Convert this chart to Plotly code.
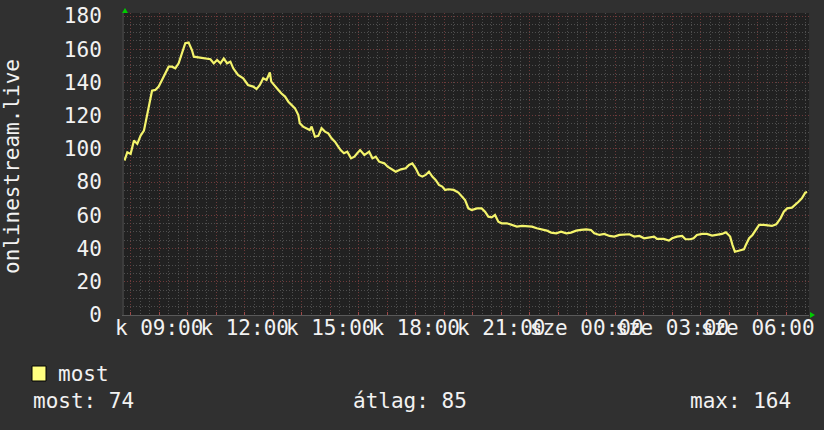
import plotly.graph_objects as go
import pandas as pd

# readings (time of day, value); times run from Tuesday morning into Wednesday
times = [
    "07:47", "07:53", "08:00", "08:07", "08:14", "08:21", "08:28", "08:35", "08:38", "08:45",
    "08:52", "08:59", "09:06", "09:13", "09:20", "09:27", "09:34", "09:41", "09:48", "09:55",
    "10:02", "10:09", "10:13", "10:24", "10:37", "10:48", "10:55", "11:02", "11:09", "11:16",
    "11:23", "11:30", "11:36", "11:46", "11:57", "12:07", "12:18", "12:25", "12:32", "12:39",
    "12:46", "12:53", "12:56", "13:04", "13:11", "13:17", "13:25", "13:32", "13:39", "13:46",
    "13:53", "13:56", "14:03", "14:10", "14:17", "14:21", "14:28", "14:35", "14:42", "14:49",
    "14:56", "15:03", "15:10", "15:17", "15:22", "15:29", "15:36", "15:44", "15:51", "15:57",
    "16:03", "16:12", "16:22", "16:29", "16:36", "16:43", "16:54", "17:01", "17:11", "17:18",
    "17:29", "17:39", "17:46", "17:53", "18:00", "18:07", "18:14", "18:21", "18:28", "18:35",
    "18:42", "18:49", "18:56", "19:02", "19:09", "19:20", "19:30", "19:37", "19:44", "19:51",
    "19:58", "20:09", "20:19", "20:26", "20:33", "20:40", "20:47", "20:54", "21:01", "21:12",
    "21:22", "21:33", "21:44", "21:54", "22:05", "22:15", "22:26", "22:36", "22:45", "22:56",
    "23:06", "23:17", "23:27", "23:38", "23:48", "23:59", "00:09", "00:16", "00:27", "00:37",
    "00:48", "00:58", "01:09", "01:19", "01:30", "01:40", "01:51", "02:01", "02:12", "02:22",
    "02:28", "02:42", "02:53", "03:00", "03:10", "03:21", "03:28", "03:38", "03:45", "03:52",
    "04:03", "04:13", "04:24", "04:34", "04:45", "04:53", "05:02", "05:07", "05:12", "05:20",
    "05:31", "05:35", "05:42", "05:49", "05:56", "06:03", "06:13", "06:20", "06:30", "06:39",
    "06:48", "06:55", "07:02", "07:12", "07:19", "07:26", "07:33", "07:40", "07:44",
]
values = [
    93, 98, 97, 105, 103, 108, 111, 121, 126, 135,
    135.5, 137.5, 141.5, 145.5, 149.5, 149.5, 148.5, 151.5, 157.5, 163.6,
    164, 159.5, 155.5, 155, 154.5, 154, 151.5, 153.5, 151.5, 154.5,
    151.5, 152.5, 148.5, 144.5, 142.5, 138.5, 137.5, 136, 138.5, 142.5,
    141.5, 146, 140.5, 137.5, 135.5, 133.5, 131.5, 128.4, 126.4, 124.4,
    120.4, 115.4, 113.4, 112.4, 111.4, 113.4, 107.3, 107.8, 112.4, 110.4,
    109.4, 106.4, 104.3, 101.3, 99.3, 97.4, 98.3, 94.3, 95.3, 97.4,
    99.3, 96.3, 98.3, 94.3, 95.3, 92.3, 91.3, 89.3, 87.3, 86.3,
    87.7, 88.3, 90.3, 91.3, 88.3, 84.3, 83.3, 84.3, 86.3, 83.3,
    81.3, 78.3, 77.3, 75.3, 75.7, 75.3, 73.7, 71.2, 69.2, 64.2,
    63.2, 64.2, 64.2, 62.2, 59.2, 58.8, 60.2, 56.2, 55.2, 55.2,
    54.2, 53.2, 53.6, 53.2, 53.2, 52.2, 51.6, 50.8, 49.6, 49.2,
    50.2, 49.2, 49.6, 50.8, 51.2, 51.6, 51.2, 49.2, 48.2, 48.8,
    47.6, 47.2, 48.2, 48.2, 48.6, 47.2, 47.6, 46.2, 46.6, 47.2,
    45.8, 45.8, 44.8, 46.2, 47.2, 47.6, 45.6, 45.6, 46.2, 48.2,
    48.8, 48.8, 47.8, 48.2, 48.8, 49.8, 47.2, 42.1, 38.1, 38.7,
    39.5, 42.1, 46.2, 48.2, 51.6, 54.2, 54.2, 53.8, 53.6, 54.6,
    58.2, 62.2, 64.2, 64.6, 66.2, 68.2, 70.2, 73.6, 74,
]

tick_hours = ["08:00", "09:00", "10:00", "11:00", "12:00", "13:00", "14:00", "15:00",
              "16:00", "17:00", "18:00", "19:00", "20:00", "21:00", "22:00", "23:00",
              "00:00", "01:00", "02:00", "03:00", "04:00", "05:00", "06:00", "07:00"]
tick_labels = ["", "k 09:00", "", "", "k 12:00", "", "", "k 15:00",
               "", "", "k 18:00", "", "", "k 21:00", "", "",
               "sze 00:00", "", "", "sze 03:00", "", "", "sze 06:00", ""]

series_name = "most"
stats = ["most: 74", "átlag: 85", "max: 164"]
y_title = "onlinestream.live"


def to_dates(hhmm_list):
    # day rolls over when the clock wraps past midnight
    out, day, prev = [], pd.Timestamp("2024-01-02"), None
    for t in hhmm_list:
        if prev is not None and t < prev:
            day = day + pd.Timedelta(days=1)
        out.append(day + pd.Timedelta(hours=int(t[:2]), minutes=int(t[3:])))
        prev = t
    return out


x = to_dates(times)
tickvals = to_dates(tick_hours)

FONT = "DejaVu Sans Mono"
FS = 21
W, H = 824, 430
L, R, T, B = 124, 809, 13, 315


def px(xp):
    return (xp - L) / (R - L)


def py(yp):
    return (B - yp) / (B - T)


fig = go.Figure()

fig.add_trace(
    go.Scatter(
        x=x,
        y=values,
        mode="lines",
        line=dict(color="#f4f46c", width=2.2),
        hoverinfo="skip",
        showlegend=False,
    )
)

grid_minor = "#4e4e4e"
grid_major = "#6e3a3a"

fig.update_layout(
    width=W,
    height=H,
    paper_bgcolor="#303030",
    plot_bgcolor="#212121",
    margin=dict(l=L, r=W - R, t=T, b=H - B, pad=0, autoexpand=False),
    font=dict(family=FONT, color="#f2f2f2", size=FS),
    showlegend=False,
)

fig.update_xaxes(
    range=[pd.Timestamp("2024-01-02 07:46"), pd.Timestamp("2024-01-03 07:48")],
    automargin=False,
    tickmode="array",
    tickvals=tickvals,
    ticktext=tick_labels,
    tickangle=0,
    tickfont=dict(family=FONT, size=FS, color="#f2f2f2"),
    ticks="inside",
    ticklen=3,
    tickcolor="#a04848",
    showgrid=True,
    gridcolor=grid_major,
    griddash="1px,2px",
    gridwidth=1,
    minor=dict(
        dtick=20 * 60 * 1000,
        tick0=pd.Timestamp("2024-01-02 08:00"),
        showgrid=True,
        gridcolor=grid_minor,
        griddash="1px,2px",
        ticks="",
    ),
    showline=True,
    linecolor="#5a5a5a",
    linewidth=1,
    zeroline=False,
    ticklabelstandoff=-6,
)

fig.update_yaxes(
    range=[0, 180 * (B - T) / (B - 16)],
    automargin=False,
    tickmode="linear",
    tick0=0,
    dtick=20,
    tickfont=dict(family=FONT, size=FS, color="#f2f2f2"),
    ticks="",
    showgrid=True,
    gridcolor=grid_major,
    griddash="1px,2px",
    minor=dict(dtick=5, showgrid=True, gridcolor=grid_minor, griddash="1px,2px"),
    showline=True,
    linecolor="#3c3c3c",
    linewidth=2,
    zeroline=False,
    ticklabelstandoff=16,
)

# green arrows at the axis ends
fig.add_shape(
    type="path", xref="paper", yref="paper",
    path=f"M {px(122)} {py(13)} L {px(128)} {py(13)} L {px(125)} {py(8)} Z",
    fillcolor="#00cc00", line=dict(width=0),
)
fig.add_shape(
    type="path", xref="paper", yref="paper",
    path=f"M {px(810)} {py(312)} L {px(810)} {py(318)} L {px(815)} {py(315)} Z",
    fillcolor="#00cc00", line=dict(width=0),
)

# legend swatch
fig.add_shape(
    type="rect", xref="paper", yref="paper",
    x0=px(32), x1=px(46), y0=py(381), y1=py(366),
    fillcolor="#ffff80", line=dict(color="#000000", width=1),
)

annotations = [
    dict(text=y_title, x=px(12), y=py(167), xanchor="center", yanchor="middle",
         textangle=-90),
    dict(text=series_name, x=px(56), y=py(374), xanchor="left", yanchor="middle"),
    dict(text=stats[0], x=px(31), y=py(401), xanchor="left", yanchor="middle"),
    dict(text=stats[1], x=px(351), y=py(401), xanchor="left", yanchor="middle"),
    dict(text=stats[2], x=px(793), y=py(401), xanchor="right", yanchor="middle"),
]
for a in annotations:
    fig.add_annotation(xref="paper", yref="paper", showarrow=False,
                       font=dict(family=FONT, color="#f2f2f2", size=FS), **a)

# page has a default body margin; drop it so the figure sits at the corner
fig.write_html(
    "out.html",
    config={"displayModeBar": False},
    post_script="document.body.style.margin='0';",
)
